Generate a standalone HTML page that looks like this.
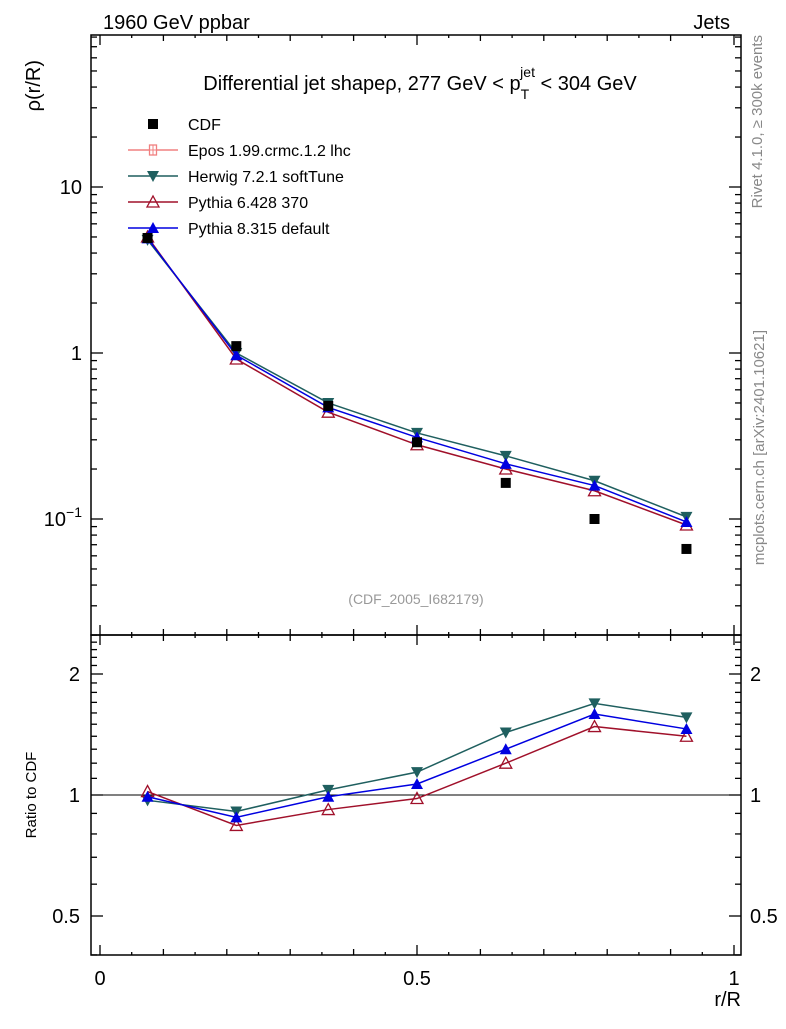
<!DOCTYPE html>
<html><head><meta charset="utf-8"><style>
body{margin:0;background:#fff;width:786px;height:1024px;overflow:hidden}
svg{font-family:"Liberation Sans",sans-serif}
</style></head><body>
<svg id="c" width="786" height="1024" xmlns="http://www.w3.org/2000/svg">
<text x="103" y="29" font-size="20">1960 GeV ppbar</text>
<text x="730" y="29" font-size="20" text-anchor="end">Jets</text>
<text x="420" y="90" font-size="20" text-anchor="middle">Differential jet shapeρ, 277 GeV &lt; p<tspan font-size="14" dy="9">T</tspan><tspan font-size="14" dx="-9" dy="-22">jet</tspan><tspan dy="13"> &lt; 304 GeV</tspan></text>
<text x="40" y="60" font-size="20" transform="rotate(-90 40 60)" text-anchor="end">ρ(r/R)</text>
<text x="36" y="795" font-size="15" transform="rotate(-90 36 795)" text-anchor="middle">Ratio to CDF</text>
<text x="741" y="1006" font-size="20" text-anchor="end">r/R</text>
<text x="762" y="35" font-size="15" fill="#888" transform="rotate(-90 762 35)" text-anchor="end">Rivet 4.1.0, ≥ 300k events</text>
<text x="764" y="330" font-size="15" fill="#888" transform="rotate(-90 764 330)" text-anchor="end">mcplots.cern.ch [arXiv:2401.10621]</text>
<text x="416" y="604" font-size="14" fill="#999" text-anchor="middle">(CDF_2005_I682179)</text>
<g id="g"></g>
</svg>
<script>
const xs=[0.075,0.215,0.36,0.5,0.64,0.78,0.925];
const cdf=[4.93,1.1,0.48,0.29,0.165,0.1,0.066];
const herwig=[4.8,1.0,0.5,0.33,0.24,0.17,0.103];
const py6=[5.0,0.92,0.44,0.28,0.2,0.148,0.092];
const py8=[4.9,0.97,0.47,0.31,0.215,0.159,0.096];
const herwigR=[0.97,0.91,1.03,1.14,1.43,1.69,1.56];
const py6R=[1.02,0.84,0.92,0.98,1.20,1.48,1.40];
const py8R=[0.99,0.88,0.99,1.065,1.30,1.59,1.46];
const L=91,R=741,T=35,M=635,B=955;
const X=v=>100+v*634;
const Y=v=>353-Math.log10(v)*166;
const YR=v=>795-Math.log2(v)*121;
const g=document.getElementById('g');const NS='http://www.w3.org/2000/svg';
function el(t,a,n){const e=document.createElementNS(NS,t);for(const k in a)e.setAttribute(k,a[k]);


g.appendChild(e);return e;}
function txt(x,y,s,n,anc){const e=el('text',{x:x,y:y,'font-size':20,'text-anchor':anc||'middle'},n);e.textContent=s;return e;}
el('rect',{x:L,y:T,width:R-L,height:M-T,fill:'none',stroke:'#000','stroke-width':1.5},'main-frame');
el('rect',{x:L,y:M,width:R-L,height:B-M,fill:'none',stroke:'#000','stroke-width':1.5},'ratio-frame');
// x ticks
for(let i=0;i<=20;i++){const v=i*0.05,x=X(v);if(x<L||x>R)continue;const len=i%10==0?10:(i%2==0?6:3);
for(const [y0,d] of [[M,-1],[T,1],[B,-1],[M,1]])el('line',{x1:x,x2:x,y1:y0,y2:y0+d*len,stroke:'#000','stroke-width':1.3},'x-tick');}
txt(X(0),985,'0','x-tick-label');txt(X(0.5),985,'0.5','x-tick-label');txt(X(1),985,'1','x-tick-label');
// main y ticks
for(let d=-2;d<=1;d++)for(let m=1;m<10;m++){const v=m*Math.pow(10,d),y=Y(v);if(y<T||y>M)continue;const len=m==1?12:6;
el('line',{x1:L,x2:L+len,y1:y,y2:y,stroke:'#000','stroke-width':1.3},'y-tick');el('line',{x1:R,x2:R-len,y1:y,y2:y,stroke:'#000','stroke-width':1.3},'y-tick');}
txt(82,194,'10','y-tick-label','end');txt(82,360,'1','y-tick-label','end');
const t=txt(82,526,'10','y-tick-label','end');t.innerHTML='10<tspan font-size="14" dy="-9">−1</tspan>';
// ratio ticks
for(let v=0.4;v<=2.51;v+=0.1){const y=YR(v);if(y<M||y>B)continue;const maj=[0.5,1,2].some(q=>Math.abs(q-v)<1e-6);const len=maj?12:6;
el('line',{x1:L,x2:L+len,y1:y,y2:y,stroke:'#000','stroke-width':1.3},'ratio-tick');el('line',{x1:R,x2:R-len,y1:y,y2:y,stroke:'#000','stroke-width':1.3},'ratio-tick');}
for(const v of [0.5,1,2]){const s=String(v);txt(80,YR(v)+7,s,'ratio-tick-label','end');txt(750,YR(v)+7,s,'ratio-tick-label','start');}
el('line',{x1:L,x2:R,y1:YR(1),y2:YR(1),stroke:'#000'},'ratio-unity-line');
function marker(type,x,y,c,n){
 if(type=='sq')el('rect',{x:x-5,y:y-5,width:10,height:10,fill:c},n);
 else if(type=='dn')el('polygon',{points:`${x-6},${y-5} ${x+6},${y-5} ${x},${y+6}`,fill:c},n);
 else if(type=='up')el('polygon',{points:`${x-6},${y+5} ${x+6},${y+5} ${x},${y-6}`,fill:c},n);
 else if(type=='upo')el('polygon',{points:`${x-6},${y+5} ${x+6},${y+5} ${x},${y-6}`,fill:'none',stroke:c,'stroke-width':1.3},n);
 else if(type=='ep'){el('rect',{x:x-3.5,y:y-5,width:7,height:10,fill:'#fff',stroke:c,'stroke-width':1.3},n);el('line',{x1:x-3.5,x2:x+3.5,y1:y,y2:y,stroke:c},n);el('line',{x1:x,x2:x,y1:y-5,y2:y+5,stroke:c},n);}
}
function series(vals,yf,c,type,n){el('polyline',{points:xs.map((x,i)=>X(x)+','+yf(vals[i])).join(' '),fill:'none',stroke:c,'stroke-width':1.5},n+'-line');
 xs.forEach((x,i)=>marker(type,X(x),yf(vals[i]),c,n+'-point'));}
series(herwig,Y,'#1f5f5f','dn','herwig');series(py6,Y,'#a0102a','upo','pythia6');series(py8,Y,'#0000e0','up','pythia8');
xs.forEach((x,i)=>marker('sq',X(x),Y(cdf[i]),'#000','cdf-point'));
series(herwigR,YR,'#1f5f5f','dn','herwig-ratio');series(py6R,YR,'#a0102a','upo','pythia6-ratio');series(py8R,YR,'#0000e0','up','pythia8-ratio');
// legend
const leg=[['CDF','sq','#000'],['Epos 1.99.crmc.1.2 lhc','ep','#f08080'],['Herwig 7.2.1 softTune','dn','#1f5f5f'],['Pythia 6.428 370','upo','#a0102a'],['Pythia 8.315 default','up','#0000e0']];
leg.forEach((l,i)=>{const y=124+i*26;
 if(l[1]!='sq')el('line',{x1:128,x2:178,y1:y,y2:y,stroke:l[2],'stroke-width':1.5},'legend-line');
 marker(l[1],153,y,l[2],'legend-marker');
 const e=el('text',{x:188,y:y+6,'font-size':16},'legend-entry');e.textContent=l[0];});
</script>
</body></html>
